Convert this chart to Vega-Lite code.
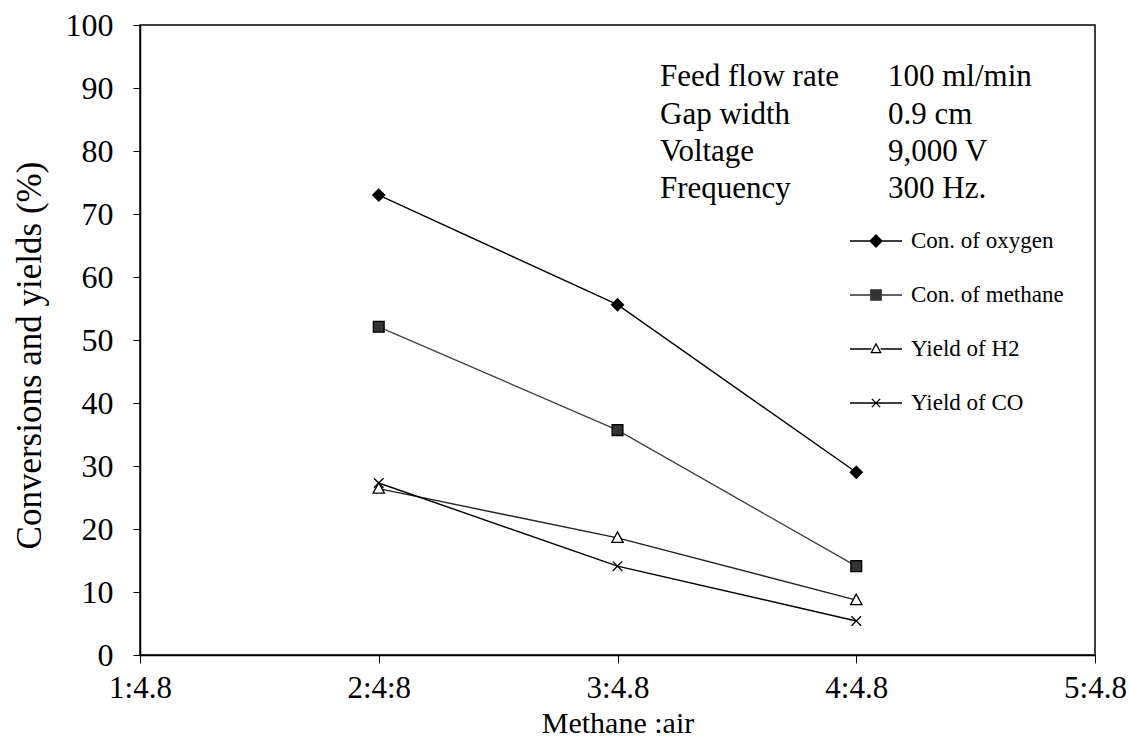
{
  "$schema": "https://vega.github.io/schema/vega-lite/v6.json",
  "width": 955,
  "height": 630,
  "autosize": {"type": "none"},
  "padding": {"left": 140, "top": 25, "right": 34, "bottom": 85},
  "background": "white",
  "config": {
    "font": "Liberation Serif, Times New Roman, serif",
    "view": {"stroke": "black", "strokeWidth": 1.5},
    "axis": {"grid": false, "domainColor": "black", "domainWidth": 1.5, "tickColor": "black", "tickWidth": 1, "labelColor": "black", "titleColor": "black", "labelFont": "Liberation Serif, Times New Roman, serif", "titleFont": "Liberation Serif, Times New Roman, serif", "titleFontWeight": "normal"},
    "legend": {"labelFont": "Liberation Serif, Times New Roman, serif", "labelColor": "black"},
    "text": {"font": "Liberation Serif, Times New Roman, serif"}
  },
  "datasets": {
    "series": [
      {"x": 2, "ratio": "2:4:8", "series": "Con. of oxygen", "value": 73.0},
      {"x": 3, "ratio": "3:4.8", "series": "Con. of oxygen", "value": 55.6},
      {"x": 4, "ratio": "4:4.8", "series": "Con. of oxygen", "value": 29.0},
      {"x": 2, "ratio": "2:4:8", "series": "Con. of methane", "value": 52.1},
      {"x": 3, "ratio": "3:4.8", "series": "Con. of methane", "value": 35.7},
      {"x": 4, "ratio": "4:4.8", "series": "Con. of methane", "value": 14.1},
      {"x": 2, "ratio": "2:4:8", "series": "Yield of H2", "value": 26.4},
      {"x": 3, "ratio": "3:4.8", "series": "Yield of H2", "value": 18.6},
      {"x": 4, "ratio": "4:4.8", "series": "Yield of H2", "value": 8.7},
      {"x": 2, "ratio": "2:4:8", "series": "Yield of CO", "value": 27.3},
      {"x": 3, "ratio": "3:4.8", "series": "Yield of CO", "value": 14.1},
      {"x": 4, "ratio": "4:4.8", "series": "Yield of CO", "value": 5.4}
    ],
    "notes": [
      {"t": "Feed flow rate", "x": 3.178, "y": 90.3},
      {"t": "100 ml/min", "x": 4.133, "y": 90.3},
      {"t": "Gap width", "x": 3.178, "y": 84.3},
      {"t": "0.9 cm", "x": 4.133, "y": 84.3},
      {"t": "Voltage", "x": 3.178, "y": 78.4},
      {"t": "9,000 V", "x": 4.133, "y": 78.4},
      {"t": "Frequency", "x": 3.178, "y": 72.5},
      {"t": "300 Hz.", "x": 4.133, "y": 72.5}
    ]
  },
  "resolve": {"scale": {"shape": "independent", "fill": "independent", "color": "independent", "stroke": "independent"}},
  "layer": [
    {
      "data": {"name": "series"},
      "mark": {"type": "line", "strokeWidth": 1.4},
      "encoding": {
        "x": {"field": "x", "type": "quantitative", "scale": {"domain": [1, 5], "nice": false, "zero": false},
          "axis": {"values": [1, 2, 3, 4, 5], "labelExpr": "datum.value == 2 ? '2:4:8' : datum.value + ':4.8'", "labelFontSize": 31, "labelPadding": 10, "tickSize": 8, "labelFlush": false, "labelBound": false, "title": "Methane :air", "titleFontSize": 30, "titleBaseline": "alphabetic", "titleY": 77}},
        "y": {"field": "value", "type": "quantitative", "scale": {"domain": [0, 100], "nice": false},
          "axis": {"values": [0, 10, 20, 30, 40, 50, 60, 70, 80, 90, 100], "labelFontSize": 32, "labelPadding": 20, "tickSize": 7, "title": "Conversions and yields (%)", "titleFontSize": 35, "titleX": -111, "titleY": 330, "titleBaseline": "middle", "titleAlign": "center"}},
        "detail": {"field": "series"},
        "color": {"field": "series", "type": "nominal", "legend": null,
          "scale": {"domain": ["Con. of oxygen", "Con. of methane", "Yield of H2", "Yield of CO"], "range": ["black", "#444444", "#222222", "black"]}}
      }
    },
    {
      "data": {"name": "series"},
      "mark": {"type": "point", "filled": true, "size": 144, "stroke": "black", "strokeWidth": 1.3, "opacity": 1},
      "encoding": {
        "x": {"field": "x", "type": "quantitative"},
        "y": {"field": "value", "type": "quantitative"},
        "shape": {"field": "series", "type": "nominal", "legend": null,
          "scale": {"domain": ["Con. of oxygen", "Con. of methane", "Yield of H2", "Yield of CO"],
            "range": ["M0,-1L1,0L0,1L-1,0Z", "M-0.9,-0.9L0.9,-0.9L0.9,0.9L-0.9,0.9Z", "M0,-1L0.95,0.75L-0.95,0.75Z", "M-0.8,-0.8L0.8,0.8M-0.8,0.8L0.8,-0.8"]}},
        "fill": {"field": "series", "type": "nominal", "legend": null,
          "scale": {"domain": ["Con. of oxygen", "Con. of methane", "Yield of H2", "Yield of CO"], "range": ["black", "#333333", "white", "transparent"]}}
      }
    },
    {
      "data": {"name": "series"},
      "mark": {"type": "point", "filled": false, "size": 2704, "strokeWidth": 1.3, "opacity": 0},
      "encoding": {
        "x": {"field": "x", "type": "quantitative"},
        "y": {"field": "value", "type": "quantitative"},
        "shape": {"field": "series", "type": "nominal",
          "scale": {"domain": ["Con. of oxygen", "Con. of methane", "Yield of H2", "Yield of CO"],
            "range": ["M-1,0L-0.23,0M0.23,0L1,0M0,-0.23L0.23,0L0,0.23L-0.23,0Z", "M-1,0L-0.2,0M0.2,0L1,0M-0.2,-0.2L0.2,-0.2L0.2,0.2L-0.2,0.2Z", "M-1,0L-0.18,0M0.18,0L1,0M0,-0.2L0.18,0.14L-0.18,0.14Z", "M-1,0L1,0M-0.16,-0.16L0.16,0.16M-0.16,0.16L0.16,-0.16"]},
          "legend": {"title": null, "orient": "none", "legendX": 709, "legendY": 189, "symbolSize": 2704, "symbolStrokeWidth": 1.3, "symbolOpacity": 1, "labelFontSize": 23, "labelOffset": 8, "rowPadding": 15, "padding": 0}},
        "fill": {"field": "series", "type": "nominal",
          "scale": {"domain": ["Con. of oxygen", "Con. of methane", "Yield of H2", "Yield of CO"], "range": ["black", "#333333", "white", "transparent"]},
          "legend": {"title": null, "orient": "none", "legendX": 709, "legendY": 189, "symbolSize": 2704, "symbolStrokeWidth": 1.3, "symbolOpacity": 1, "labelFontSize": 23, "labelOffset": 8, "rowPadding": 15, "padding": 0}},
        "stroke": {"field": "series", "type": "nominal",
          "scale": {"domain": ["Con. of oxygen", "Con. of methane", "Yield of H2", "Yield of CO"], "range": ["black", "#333333", "black", "black"]},
          "legend": {"title": null, "orient": "none", "legendX": 709, "legendY": 189, "symbolSize": 2704, "symbolStrokeWidth": 1.3, "symbolOpacity": 1, "labelFontSize": 23, "labelOffset": 8, "rowPadding": 15, "padding": 0}}
      }
    },
    {
      "data": {"name": "notes"},
      "mark": {"type": "text", "align": "left", "baseline": "alphabetic", "fontSize": 31, "color": "black"},
      "encoding": {
        "x": {"field": "x", "type": "quantitative"},
        "y": {"field": "y", "type": "quantitative"},
        "text": {"field": "t"}
      }
    }
  ]
}
